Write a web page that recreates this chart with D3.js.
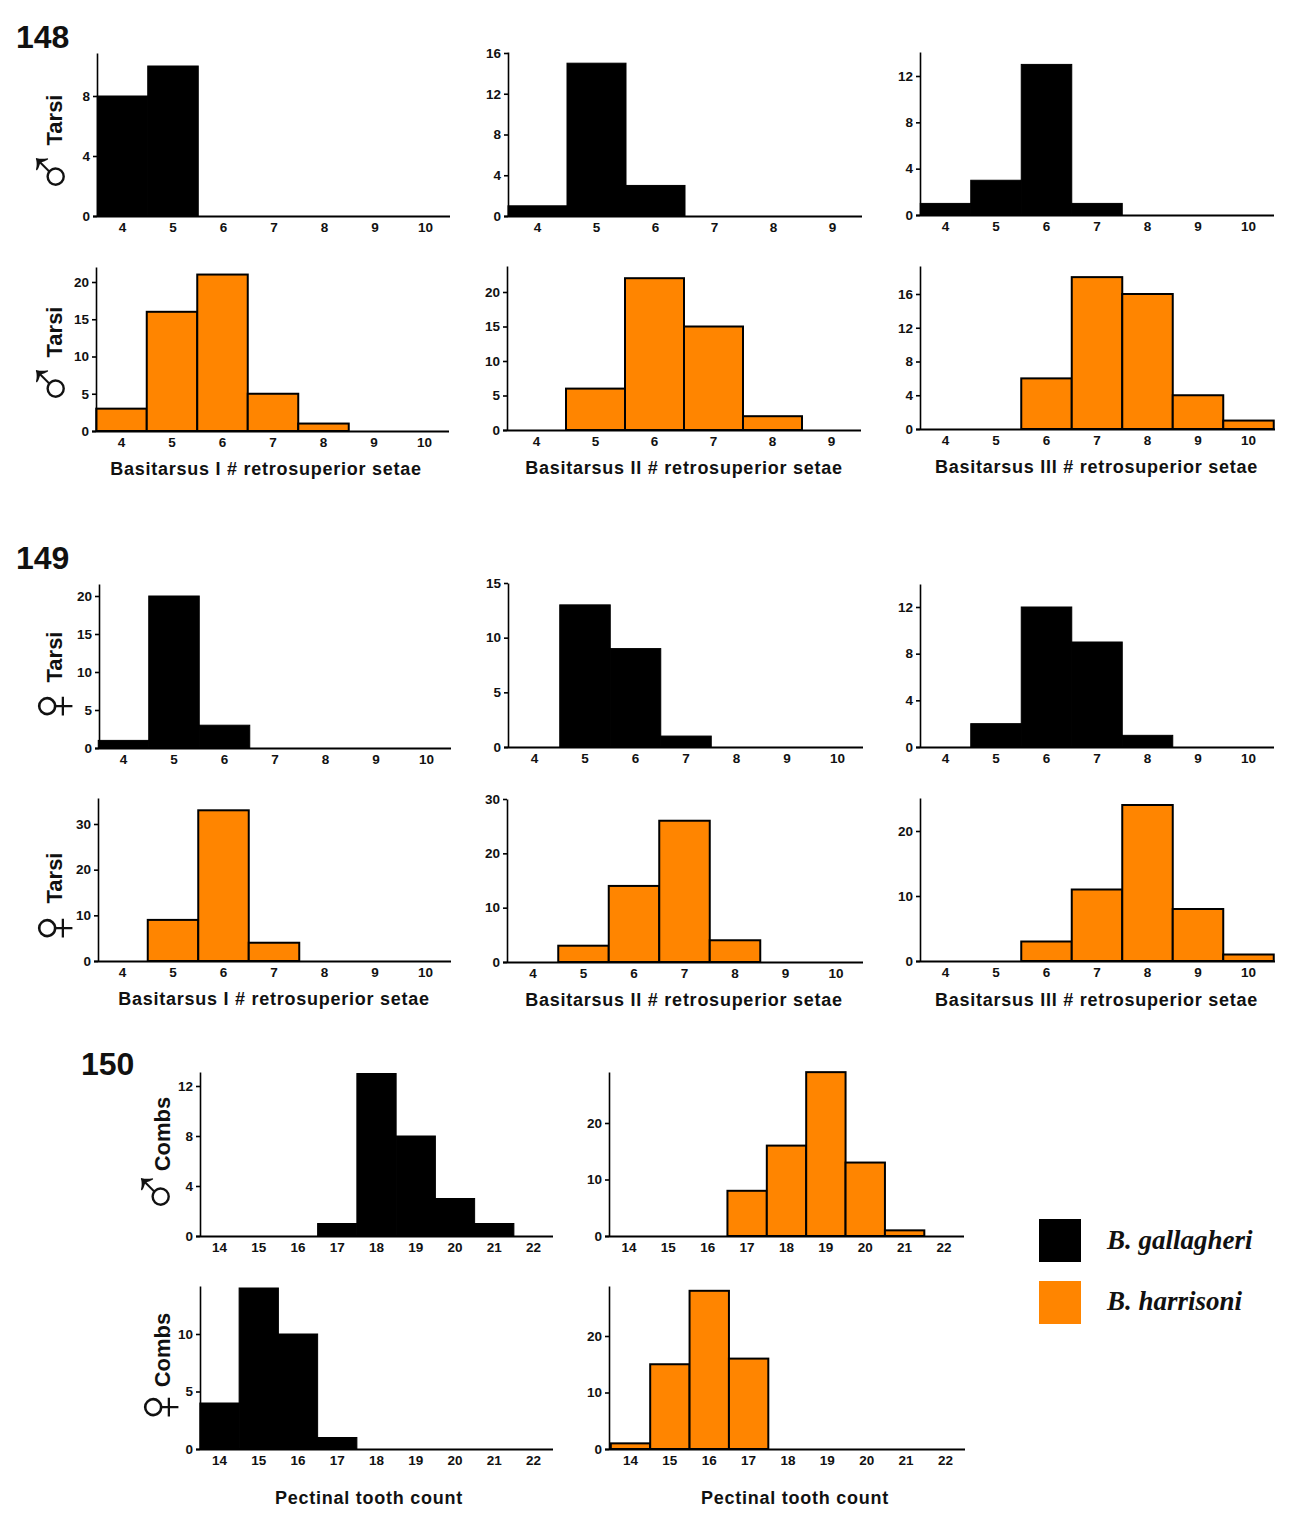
<!DOCTYPE html>
<html><head><meta charset="utf-8">
<script src="https://cdn.jsdelivr.net/npm/d3@7"></script>
<style>html,body{margin:0;background:#fff}svg{display:block}
text{font-family:"Liberation Sans",Arial,sans-serif;font-weight:bold;fill:#111}</style></head>
<body><svg id="c" width="1304" height="1537"></svg>
<script>
// ---------- data ----------
const setaeSeven = [4,5,6,7,8,9,10];
const setaeSix = [4,5,6,7,8,9];
const toothCounts = [14,15,16,17,18,19,20,21,22];
const seriesNames = ["B. gallagheri","B. harrisoni"];
const maleGallagheriI = [8,10,0,0,0,0,0];
const maleGallagheriII = [1,15,3,0,0,0];
const maleGallagheriIII = [1,3,13,1,0,0,0];
const maleHarrisoniI = [3,16,21,5,1,0,0];
const maleHarrisoniII = [0,6,22,15,2,0];
const maleHarrisoniIII = [0,0,6,18,16,4,1];
const femaleGallagheriI = [1,20,3,0,0,0,0];
const femaleGallagheriII = [0,13,9,1,0,0,0];
const femaleGallagheriIII = [0,2,12,9,1,0,0];
const femaleHarrisoniI = [0,9,33,4,0,0,0];
const femaleHarrisoniII = [0,3,14,26,4,0,0];
const femaleHarrisoniIII = [0,0,3,11,24,8,1];
const maleCombsGallagheri = [0,0,0,1,13,8,3,1,0];
const maleCombsHarrisoni = [0,0,0,8,16,29,13,1,0];
const femaleCombsGallagheri = [4,14,10,1,0,0,0,0,0];
const femaleCombsHarrisoni = [1,15,28,16,0,0,0,0,0];
const ticks148 = [[0,4,8],[0,4,8,12,16],[0,4,8,12],[0,5,10,15,20],[0,5,10,15,20],[0,4,8,12,16]];
const ticks149 = [[0,5,10,15,20],[0,5,10,15],[0,4,8,12],[0,10,20,30],[0,10,20,30],[0,10,20]];
const ticks150 = [[0,4,8,12],[0,10,20],[0,5,10],[0,10,20]];

// ---------- layout ----------
const ORANGE = "#ff8500", BLACK = "#000";
const panels = [
 {v:maleGallagheriI,c:setaeSeven,t:ticks148[0],col:BLACK,ax:97,end:450,c0:122.5,c1:425.5,base:216,top:53,rv:8,ry:96},
 {v:maleGallagheriII,c:setaeSix,t:ticks148[1],col:BLACK,ax:508,end:862,c0:537.5,c1:832.5,base:216,top:52,rv:16,ry:53},
 {v:maleGallagheriIII,c:setaeSeven,t:ticks148[2],col:BLACK,ax:920,end:1274,c0:945.5,c1:1248.5,base:215,top:52,rv:12,ry:76},
 {v:maleHarrisoniI,c:setaeSeven,t:ticks148[3],col:ORANGE,ax:96,end:449,c0:121.5,c1:424.5,base:431,top:267,rv:20,ry:282},
 {v:maleHarrisoniII,c:setaeSix,t:ticks148[4],col:ORANGE,ax:507,end:861,c0:536.5,c1:831.5,base:430,top:266,rv:20,ry:292},
 {v:maleHarrisoniIII,c:setaeSeven,t:ticks148[5],col:ORANGE,ax:920,end:1275,c0:945.5,c1:1248.5,base:429,top:266,rv:16,ry:294},
 {v:femaleGallagheriI,c:setaeSeven,t:ticks149[0],col:BLACK,ax:99,end:451,c0:123.5,c1:426.5,base:748,top:584,rv:20,ry:596},
 {v:femaleGallagheriII,c:setaeSeven,t:ticks149[1],col:BLACK,ax:508,end:863,c0:534.5,c1:837.5,base:747,top:583,rv:15,ry:583},
 {v:femaleGallagheriIII,c:setaeSeven,t:ticks149[2],col:BLACK,ax:920,end:1274,c0:945.5,c1:1248.5,base:747,top:584,rv:12,ry:607},
 {v:femaleHarrisoniI,c:setaeSeven,t:ticks149[3],col:ORANGE,ax:98,end:451,c0:122.5,c1:425.5,base:961,top:798,rv:30,ry:824},
 {v:femaleHarrisoniII,c:setaeSeven,t:ticks149[4],col:ORANGE,ax:507,end:863,c0:533,c1:836,base:962,top:799,rv:30,ry:799},
 {v:femaleHarrisoniIII,c:setaeSeven,t:ticks149[5],col:ORANGE,ax:920,end:1275,c0:945.5,c1:1248.5,base:961,top:798,rv:20,ry:831},
 {v:maleCombsGallagheri,c:toothCounts,t:ticks150[0],col:BLACK,ax:200,end:553,c0:219.5,c1:533.5,base:1236,top:1072,rv:12,ry:1086},
 {v:maleCombsHarrisoni,c:toothCounts,t:ticks150[1],col:ORANGE,ax:609,end:964,c0:629,c1:944,base:1236,top:1072,rv:20,ry:1123},
 {v:femaleCombsGallagheri,c:toothCounts,t:ticks150[2],col:BLACK,ax:200,end:553,c0:219.5,c1:533.5,base:1449,top:1286,rv:10,ry:1334},
 {v:femaleCombsHarrisoni,c:toothCounts,t:ticks150[3],col:ORANGE,ax:609,end:965,c0:630.5,c1:945.5,base:1449,top:1286,rv:20,ry:1336}
];
const svg = d3.select("#c");
const tickFont = 13.5;

panels.forEach(p => {
  const x = d3.scaleLinear().domain([p.c[0], p.c[p.c.length-1]]).range([p.c0,p.c1]);
  const y = d3.scaleLinear().domain([0,p.rv]).range([p.base,p.ry]);
  const half = Math.abs(x(1)-x(0))/2;
  const g = svg.append("g");
  g.selectAll("rect").data(p.v.map((v,i)=>({v,c:p.c[i]})).filter(d=>d.v>0)).join("rect")
    .attr("x",d=>x(d.c)-half).attr("width",half*2)
    .attr("y",d=>y(d.v)).attr("height",d=>p.base-y(d.v))
    .attr("fill",p.col).attr("stroke","#000").attr("stroke-width",p.col===BLACK?1:2);

  const yAxis = d3.axisLeft(d3.scaleLinear().domain([y.invert(p.base),y.invert(p.top)]).range([p.base,p.top]))
    .tickValues(p.t).tickFormat(d3.format("d")).tickSize(4).tickSizeOuter(0).tickPadding(3);
  const ya = g.append("g").attr("transform",`translate(${p.ax},0)`).call(yAxis);
  ya.selectAll("path,line").attr("stroke","#000").attr("stroke-width",1.6);
  ya.selectAll("text").attr("font-size",tickFont).attr("font-family",null).style("font-family",'"Liberation Sans"').style("font-weight","bold");

  const xAxis = d3.axisBottom(x).tickValues(p.c).tickFormat(d3.format("d")).tickSize(0).tickPadding(6);
  const xa = g.append("g").attr("transform",`translate(0,${p.base})`).call(xAxis);
  xa.select("path").attr("d",`M${p.ax-4},0.5H${p.end}`).attr("stroke","#000").attr("stroke-width",1.8);
  xa.selectAll("text").attr("dx",-0.6).attr("font-size",tickFont).attr("font-family",null).style("font-family",'"Liberation Sans"').style("font-weight","bold");
});

// figure numbers
[["148",16,48],["149",16,569],["150",81,1075]].forEach(([s,x,y])=>
  svg.append("text").attr("x",x).attr("y",y).attr("font-size",32).text(s));

// axis titles
const basI="Basitarsus I # retrosuperior setae", basII="Basitarsus II # retrosuperior setae", basIII="Basitarsus III # retrosuperior setae", pect="Pectinal tooth count";
[[basI,266,475],[basII,684,474],[basIII,1096.5,473],[basI,274,1005],[basII,684,1006],[basIII,1096.5,1006],[pect,369,1504],[pect,795,1504]]
 .forEach(([s,x,y])=>svg.append("text").attr("x",x).attr("y",y).attr("text-anchor","middle")
   .attr("font-size",18).style("letter-spacing","0.75px").text(s));

// rotated side labels
[["Tarsi",62,120],["Tarsi",62,332],["Tarsi",62,657],["Tarsi",62,878],["Combs",170,1134],["Combs",170,1350]]
 .forEach(([s,x,y])=>svg.append("text").attr("transform",`translate(${x},${y}) rotate(-90)`)
   .attr("text-anchor","middle").attr("font-size",22).text(s));
[["♂",73,172],["♂",73,384],["♀",75,706],["♀",75,928],["♂",178,1192],["♀",181,1407]]
 .forEach(([s,x,y])=>svg.append("text").attr("transform",`translate(${x},${y}) rotate(-90)`)
   .attr("text-anchor","middle").style("font-family","Liberation Sans").style("font-weight","normal")
   .attr("font-size",66).text(s));

// legend
[[seriesNames[0],BLACK,1219,1249],[seriesNames[1],ORANGE,1281,1310]].forEach(([s,c,ry,ty])=>{
  svg.append("rect").attr("x",1039).attr("y",ry).attr("width",42).attr("height",43).attr("fill",c);
  svg.append("text").attr("x",1107).attr("y",ty).attr("font-size",27)
    .style("font-family","Liberation Serif").style("font-style","italic").text(s);
});
</script></body></html>
